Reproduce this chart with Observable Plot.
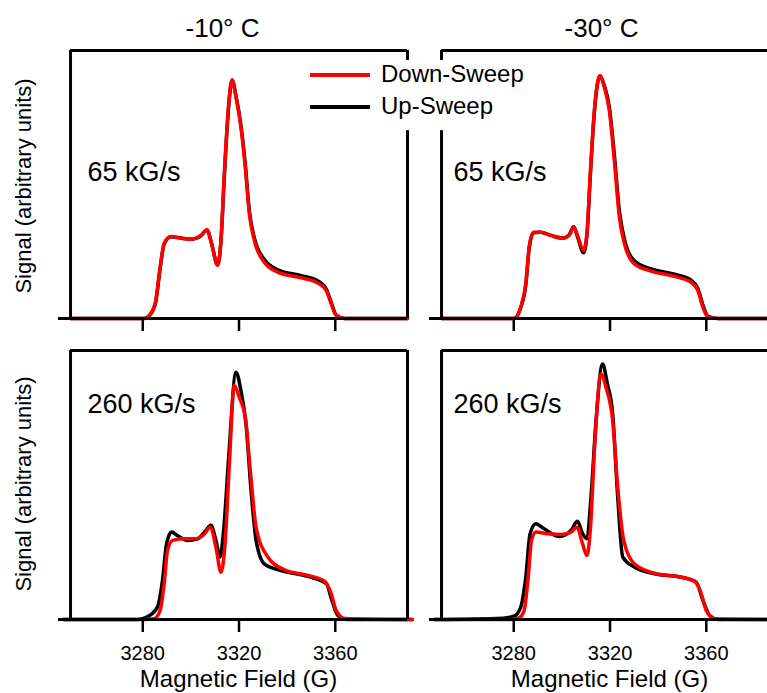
<!DOCTYPE html>
<html>
<head>
<meta charset="utf-8">
<script src="https://cdn.jsdelivr.net/npm/d3@7"></script>
<script src="https://cdn.jsdelivr.net/npm/@observablehq/plot@0.6"></script>
<style>
  html, body { margin: 0; padding: 0; background: #fff; overflow: hidden; }
  #fig { position: relative; width: 767px; height: 693px; overflow: hidden; background: #fff;
         font-family: "Liberation Sans", Arial, sans-serif; color: #000; }
  .abs { position: absolute; white-space: nowrap; line-height: 1; }
  .panel { position: absolute; width: 410px; }
  .panel svg { max-width: none !important; display: block; }
</style>
</head>
<body>
<div id="fig"></div>
<script>
// ---------- data ----------
const temperatures = ["-10° C", "-30° C"];
const rates = ["65 kG/s", "260 kG/s"];
const seriesNames = ["Down-Sweep", "Up-Sweep"];
const xTicks = [3280, 3320, 3360];
const xLabel = "Magnetic Field (G)";
const yLabel = "Signal (arbitrary units)";

// -10 °C, 65 kG/s
const tl_field = [3250, 3280.4, 3283.3, 3285.4, 3287.2, 3288.9, 3291.7, 3295.8, 3300, 3304.2, 3306.7, 3308.6, 3311.1, 3312.5, 3313.9, 3315.6, 3317.1, 3318.75, 3320.8, 3322.6, 3324.3, 3326.4, 3330.5, 3336.1, 3345.8, 3352.8, 3356.25, 3358.3, 3360.4, 3363.9, 3390];
const tl_down  = [0, 0, 0.019, 0.067, 0.19, 0.28, 0.306, 0.30, 0.296, 0.31, 0.331, 0.279, 0.198, 0.29, 0.54, 0.788, 0.89, 0.826, 0.714, 0.565, 0.39, 0.29, 0.21, 0.173, 0.152, 0.132, 0.104, 0.055, 0.011, 0, 0];
const tl_up    = [0, 0, 0.017, 0.062, 0.185, 0.278, 0.305, 0.30, 0.296, 0.309, 0.33, 0.28, 0.20, 0.29, 0.53, 0.78, 0.89, 0.83, 0.72, 0.575, 0.40, 0.30, 0.22, 0.182, 0.16, 0.14, 0.11, 0.06, 0.013, 0, 0];

// -30 °C, 65 kG/s
const tr_field = [3250, 3280.1, 3282.9, 3285, 3286.4, 3288.2, 3291.25, 3295.4, 3300.3, 3303, 3304.9, 3306.5, 3309, 3310.4, 3311.8, 3313.5, 3315.8, 3317.6, 3319.7, 3321.8, 3323.9, 3326, 3330.1, 3337.1, 3346.8, 3353.75, 3356.5, 3358.6, 3360.7, 3365, 3390];
const tr_down  = [0, 0, 0.042, 0.13, 0.266, 0.322, 0.322, 0.31, 0.30, 0.31, 0.34, 0.31, 0.254, 0.317, 0.54, 0.776, 0.907, 0.863, 0.776, 0.59, 0.378, 0.279, 0.204, 0.177, 0.157, 0.135, 0.104, 0.042, 0.005, 0, 0];
const tr_up    = [0, 0, 0.04, 0.125, 0.26, 0.32, 0.322, 0.31, 0.30, 0.312, 0.342, 0.305, 0.245, 0.31, 0.53, 0.77, 0.905, 0.87, 0.79, 0.61, 0.40, 0.295, 0.215, 0.185, 0.165, 0.143, 0.112, 0.05, 0.008, 0, 0];

// -10 °C, 260 kG/s
const bl_down_field = [3247, 3280.5, 3284.7, 3287.2, 3288.9, 3290.3, 3292.4, 3296.5, 3301.4, 3305.5, 3308, 3310.4, 3312.5, 3314.2, 3316, 3318, 3320.1, 3322.6, 3324.7, 3327.1, 3332, 3338.9, 3348.6, 3355.6, 3358.3, 3360.4, 3363.9, 3392];
const bl_down       = [0, 0, 0.003, 0.033, 0.133, 0.257, 0.294, 0.30, 0.30, 0.316, 0.343, 0.269, 0.176, 0.281, 0.579, 0.87, 0.826, 0.752, 0.554, 0.343, 0.232, 0.185, 0.164, 0.142, 0.096, 0.033, 0.004, 0];
const bl_up_field   = [3247, 3278, 3281.9, 3286.1, 3288.2, 3289.9, 3292, 3294.4, 3298.6, 3302.8, 3306.25, 3308.3, 3310.4, 3312.1, 3313.6, 3315.7, 3318.75, 3320.8, 3322.9, 3325, 3327.1, 3330.5, 3337.5, 3348.6, 3356.25, 3358.6, 3361.1, 3365, 3392];
const bl_up         = [0, 0, 0.01, 0.046, 0.145, 0.281, 0.325, 0.312, 0.294, 0.30, 0.331, 0.35, 0.294, 0.232, 0.331, 0.603, 0.919, 0.851, 0.727, 0.48, 0.294, 0.207, 0.182, 0.16, 0.133, 0.071, 0.015, 0, 0];

// -30 °C, 260 kG/s
const br_down_field = [3247, 3278.75, 3282.2, 3284.3, 3286, 3287.4, 3289.2, 3294, 3299.6, 3303.75, 3306.25, 3308.6, 3310.4, 3311.8, 3313.75, 3316.25, 3318.3, 3321.1, 3323.2, 3325.7, 3330.1, 3338.5, 3349.6, 3355.1, 3357.9, 3360, 3363.5, 3390];
const br_down       = [0, 0, 0.006, 0.033, 0.157, 0.294, 0.325, 0.319, 0.316, 0.325, 0.343, 0.281, 0.238, 0.331, 0.665, 0.913, 0.863, 0.74, 0.492, 0.294, 0.207, 0.172, 0.157, 0.142, 0.096, 0.033, 0.003, 0];
const br_up_field   = [3247, 3275.6, 3280.1, 3282.9, 3285, 3286.8, 3289.2, 3292.6, 3298.9, 3303.75, 3306.5, 3308.6, 3310.4, 3312.1, 3314.2, 3316.9, 3318.9, 3321.1, 3323.2, 3325.3, 3330.1, 3338.5, 3349.6, 3355.8, 3358.6, 3361.4, 3365, 3390];
const br_up         = [0, 0.005, 0.012, 0.046, 0.157, 0.319, 0.356, 0.337, 0.309, 0.331, 0.365, 0.319, 0.30, 0.455, 0.74, 0.95, 0.876, 0.765, 0.455, 0.232, 0.195, 0.17, 0.157, 0.139, 0.071, 0.015, 0, 0];

// frame extents (data units) and the legend gap in the borders
const xDomain = [3245, 3390];
const frameX = [3250, 3390];
const fullBorder = [{y1: 0, y2: 1}];
const brokenBorder = [{y1: 0, y2: 0.701}, {y1: 0.963, y2: 1}];

const FONT = "'Liberation Sans', Arial, sans-serif";
const fig = document.getElementById("fig");

function zip(fields, vals) { return fields.map((f, i) => ({f, s: vals[i]})); }

function panel({left, top, downF, down, upF, up, bottom, leftBorder, rightBorder, label, labelDx, labelDy}) {
  const height = bottom ? 393 : 333;
  const marginBottom = bottom ? 74 : 15;
  const marks = [
    Plot.line(zip(upF, up), {x: "f", y: "s", stroke: "#000", strokeWidth: 3.5, curve: "monotone-x"}),
    Plot.line(zip(downF, down), {x: "f", y: "s", stroke: "#ff0000", strokeWidth: 3.5, curve: "monotone-x"}),
    Plot.ruleY([0], {x1: xDomain[0], x2: frameX[1], stroke: "#000", strokeWidth: 3}),
    Plot.ruleY([1], {x1: frameX[0], x2: frameX[1], stroke: "#000", strokeWidth: 3}),
    Plot.ruleX(leftBorder, {x: () => frameX[0], y1: "y1", y2: "y2", stroke: "#000", strokeWidth: 3}),
    Plot.ruleX(rightBorder, {x: () => frameX[1], y1: "y1", y2: "y2", stroke: "#000", strokeWidth: 3}),
    Plot.axisX({ticks: xTicks, tickSize: 13, tickFormat: () => "", label: null,
                stroke: "#000", strokeWidth: 2.5}),
    Plot.text([label], {frameAnchor: "top-left", dx: labelDx, dy: labelDy, text: d => d,
                        textAnchor: "start", lineAnchor: "middle", fontSize: 27, fill: "#000"})
  ];
  if (bottom) {
    marks.push(Plot.text(xTicks, {x: d => d, y: () => 0, dy: 26, text: d => String(d), lineAnchor: "top",
                                  textAnchor: "middle", fontSize: 20, fill: "#000"}));
  }
  const plot = Plot.plot({
    width: 410, height,
    marginLeft: 58, marginRight: 3, marginTop: 50, marginBottom,
    style: {background: "transparent", overflow: "visible", fontFamily: FONT, color: "#000", maxWidth: "none"},
    x: {domain: xDomain},
    y: {domain: [0, 1], axis: null},
    marks
  });
  // make the axis tick marks bold and black like the reference
  d3.select(plot).selectAll('[aria-label="x-axis tick"]')
    .attr("stroke", "#000").attr("stroke-width", 2.5).attr("stroke-opacity", 1)
    .selectAll("path, line").attr("stroke", "#000").attr("stroke-width", 2.5).attr("stroke-opacity", 1);
  const wrap = document.createElement("div");
  wrap.className = "panel";
  wrap.style.left = left + "px";
  wrap.style.top = top + "px";
  wrap.appendChild(plot);
  fig.appendChild(wrap);
}

panel({left: 0, top: 0, downF: tl_field, down: tl_down, upF: tl_field, up: tl_up, bottom: false,
       leftBorder: fullBorder, rightBorder: brokenBorder, label: rates[0], labelDx: 29, labelDy: 122});
panel({left: 371, top: 0, downF: tr_field, down: tr_down, upF: tr_field, up: tr_up, bottom: false,
       leftBorder: brokenBorder, rightBorder: fullBorder, label: rates[0], labelDx: 24, labelDy: 122});
panel({left: 0, top: 300, downF: bl_down_field, down: bl_down, upF: bl_up_field, up: bl_up, bottom: true,
       leftBorder: fullBorder, rightBorder: fullBorder, label: rates[1], labelDx: 29, labelDy: 53.5});
panel({left: 371, top: 300, downF: br_down_field, down: br_down, upF: br_up_field, up: br_up, bottom: true,
       leftBorder: fullBorder, rightBorder: fullBorder, label: rates[1], labelDx: 24, labelDy: 53.5});

// ---------- text and legend ----------
function addText(txt, css) {
  const d = document.createElement("div");
  d.className = "abs";
  d.textContent = txt;
  Object.assign(d.style, css);
  fig.appendChild(d);
  return d;
}
// titles (baseline ≈ 37)
addText(temperatures[0], {left: "222.5px", top: "15px", fontSize: "26px", transform: "translateX(-50%)"});
addText(temperatures[1], {left: "601.5px", top: "15px", fontSize: "26px", transform: "translateX(-50%)"});
// x axis titles
addText(xLabel, {left: "238.5px", top: "666.7px", fontSize: "24px", transform: "translateX(-50%)"});
addText(xLabel, {left: "609.5px", top: "666.7px", fontSize: "24px", transform: "translateX(-50%)"});
// y axis titles
addText(yLabel, {left: "24px", top: "186px", fontSize: "22px", transform: "translate(-50%,-50%) rotate(-90deg)"});
addText(yLabel, {left: "24px", top: "484px", fontSize: "22px", transform: "translate(-50%,-50%) rotate(-90deg)"});
// legend
const legendColors = ["#ff0000", "#000000"];
const legendY = [75, 107];
seriesNames.forEach((name, i) => {
  const sw = document.createElement("div");
  Object.assign(sw.style, {position: "absolute", left: "310px", top: (legendY[i] - 2) + "px",
                           width: "60px", height: "4px", background: legendColors[i]});
  fig.appendChild(sw);
  addText(name, {left: "381px", top: (legendY[i] + 7 - 20.3) + "px", fontSize: "24px"});
});
</script>
</body>
</html>
